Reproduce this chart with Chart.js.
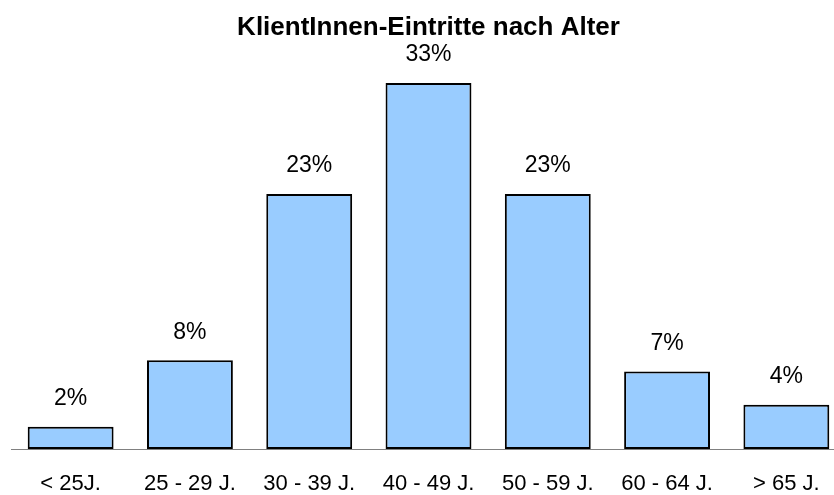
<!DOCTYPE html>
<html>
<head>
<meta charset="utf-8">
<script src="https://cdn.jsdelivr.net/npm/chart.js@4"></script>
<style>
    html, body { margin: 0; padding: 0; background: #fff; overflow: hidden; }
    /* wider than the window: the last bar runs off the right edge in the original */
    #wrap { width: 846px; height: 495px; }
</style>
</head>
<body>
<div id="wrap"><canvas id="ageChart"></canvas></div>
<script>
var categories = ['< 25J.', '25 - 29 J.', '30 - 39 J.', '40 - 49 J.', '50 - 59 J.', '60 - 64 J.', '> 65 J.'];
var shares = [2, 8, 23, 33, 23, 7, 4];
var chartTitle = 'KlientInnen-Eintritte nach Alter';

// draws the "xx%" labels above the bars
var valueLabels = {
    id: 'valueLabels',
    afterDatasetsDraw: function (chart) {
        var ctx = chart.ctx;
        var meta = chart.getDatasetMeta(0);
        ctx.save();
        ctx.font = '23px "Liberation Sans", Arial, sans-serif';
        ctx.fillStyle = '#000';
        ctx.textAlign = 'center';
        ctx.textBaseline = 'middle';
        meta.data.forEach(function (bar, i) {
            ctx.fillText(shares[i] + '%', bar.x, bar.y - 28);
        });
        ctx.restore();
    }
};

var ctx = document.getElementById('ageChart').getContext('2d');
var ageChart = new Chart(ctx, {
    type: 'bar',
    plugins: [valueLabels],
    data: {
        labels: categories,
        datasets: [{
            data: shares,
            backgroundColor: '#99ccff',
            borderColor: '#000',
            borderWidth: 2,
            borderSkipped: false,
            categoryPercentage: 0.72,
            barPercentage: 1
        }]
    },
    options: {
        responsive: true,
        maintainAspectRatio: false,
        animation: false,
        // negative bottom: the x axis reserves its tick padding twice
        layout: { padding: { left: 11, right: 0, top: 0, bottom: -24 } },
        plugins: {
            legend: { display: false },
            tooltip: { enabled: false },
            title: {
                display: true,
                text: chartTitle,
                color: '#000',
                font: { family: '"Liberation Sans", Arial, sans-serif', size: 26, weight: 'bold', lineHeight: 1.2 },
                padding: { top: 12, bottom: 0 }
            }
        },
        scales: {
            x: {
                grid: { display: false, drawTicks: false },
                border: { display: true, color: '#808080', width: 1 },
                ticks: {
                    color: '#000',
                    padding: 24,
                    maxRotation: 0,
                    autoSkip: false,
                    font: { family: '"Liberation Sans", Arial, sans-serif', size: 22, lineHeight: 1 }
                }
            },
            y: {
                display: false,
                min: 0,
                max: 36.6
            }
        }
    }
});
</script>
</body>
</html>
